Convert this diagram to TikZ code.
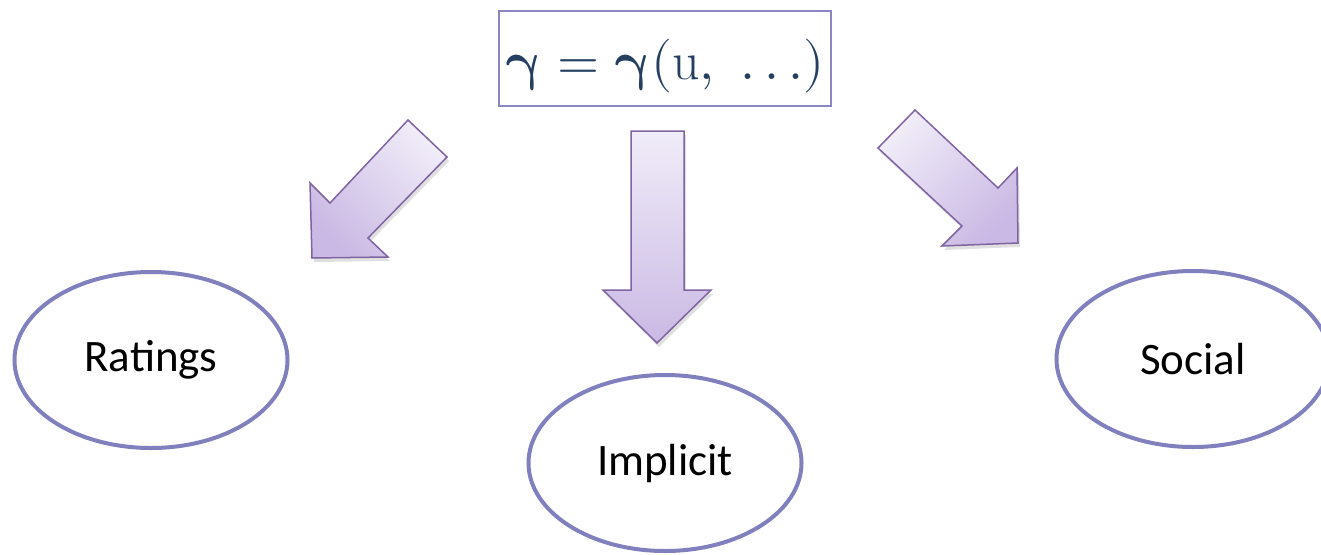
\documentclass[tikz,border=0pt]{standalone}
\usepackage{fontspec}
\usepackage{unicode-math}
\setmathfont{Latin Modern Math}
\setsansfont{Carlito}
\usetikzlibrary{shapes.geometric,shadows}

\definecolor{rimblue}{RGB}{128,128,190}
\definecolor{boxrim}{RGB}{140,134,194}
\definecolor{navytext}{RGB}{36,63,96}
\definecolor{arrowlight}{RGB}{240,236,248}
\definecolor{arrowdark}{RGB}{202,185,228}
\definecolor{arrowrim}{RGB}{128,100,162}

\begin{document}
\begin{tikzpicture}[
  x=1pt, y=-1pt,
  formula/.style={draw=boxrim, line width=2pt, minimum width=332pt, minimum height=95pt,
    text height=55pt, text depth=13pt, inner sep=0pt, text=navytext,
    font=\fontsize{54}{62}\selectfont},
  source/.style={ellipse, draw=rimblue, line width=4pt, minimum width=273pt,
    minimum height=176pt, inner sep=0pt, font=\sffamily\fontsize{45}{54}\selectfont},
  blockarrow/.style={draw=arrowrim, line width=1.5pt, line join=miter,
    top color=arrowlight, bottom color=arrowdark,
    drop shadow={shadow xshift=2pt, shadow yshift=-4pt, opacity=0.2, fill=black!60}}
]
\useasboundingbox (0,0) rectangle (1321,554);

\node[formula] (gamma) at (665,58.5)
  {$\symbfup{\gamma} = \symbfup{\gamma}(\mathrm{u},\ \mathinner{.\mkern3mu.\mkern3mu.})$};

\node[source] (ratings) at (151,360) {Ratings};
\node[source] (implicit) at (665,463) {Implicit};
\node[source] (social) at (1193,359) {Social};

% block arrows
\path[blockarrow, shading angle=-45]
  (408,120) -- (447,157) -- (368,238) -- (388,257) -- (312,258) -- (310,183) -- (330,203) -- cycle;
\path[blockarrow]
  (631,131) -- (684,131) -- (684,290) -- (711,290) -- (657,343) -- (603,290) -- (631,290) -- cycle;
\path[blockarrow, shading angle=45]
  (915,110) -- (998,188) -- (1017,168) -- (1018,243) -- (942,246) -- (962,226) -- (878,148) -- cycle;
\end{tikzpicture}
\end{document}
